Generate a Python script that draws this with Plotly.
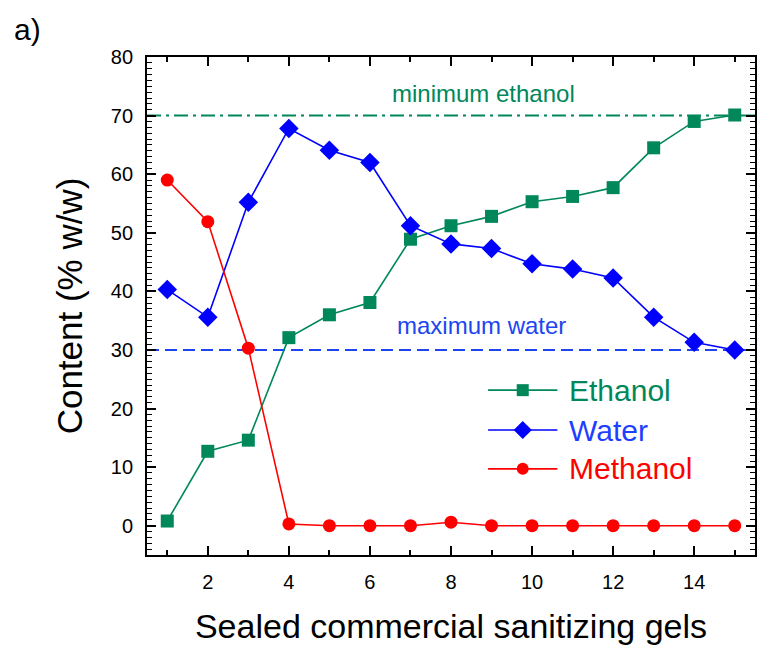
import plotly.graph_objects as go

# Sample index of the sealed commercial gels
samples = list(range(1, 16))

# Measured contents (% w/w)
ethanol = [0.8, 12.7, 14.6, 32.1, 36.0, 38.1, 48.9, 51.2, 52.8, 55.3, 56.2, 57.7, 64.5, 69.0, 70.1]
water = [40.3, 35.6, 55.2, 67.8, 64.1, 62.0, 51.2, 48.1, 47.3, 44.7, 43.8, 42.3, 35.6, 31.3, 30.0]
methanol = [59.0, 51.9, 30.3, 0.3, 0.0, 0.0, 0.0, 0.6, 0.0, 0.0, 0.0, 0.0, 0.0, 0.0, 0.0]

# Regulatory limits
min_ethanol = 70
max_water = 30

GREEN = "#00875A"
BLUE = "#0000FF"
BLUE_LIGHT = "#2045F0"
RED = "#FF0000"
FONT = "Liberation Sans, Arial, sans-serif"

series = [
    ("Ethanol", ethanol, GREEN, GREEN, "square", 13),
    ("Water", water, BLUE, "#1F3FFF", "diamond", 15),
    ("Methanol", methanol, RED, RED, "circle", 13),
]

fig = go.Figure()

# Limit lines across the whole axis range
fig.add_shape(type="line", xref="paper", yref="y", x0=0, x1=1, y0=min_ethanol, y1=min_ethanol,
              line=dict(color=GREEN, width=2, dash="14px,5px,3px,5px"), layer="below")
fig.add_shape(type="line", xref="paper", yref="y", x0=0, x1=1, y0=max_water, y1=max_water,
              line=dict(color=BLUE_LIGHT, width=2, dash="12px,6px"), layer="below")

for name, vals, col, _, sym, size in series:
    fig.add_trace(go.Scatter(
        x=samples, y=vals, mode="lines+markers", name=name,
        line=dict(color=col, width=1.6),
        marker=dict(symbol=sym, size=size, color=col),
        showlegend=False, cliponaxis=False,
    ))

# Hand-built legend on an overlay axis spanning the plot area
leg_rows = [0.331, 0.251, 0.173]
leg_x0, leg_xm, leg_x1, leg_text = 0.561, 0.618, 0.675, 0.690
for (name, vals, col, tcol, sym, size), ly in zip(series, leg_rows):
    fig.add_trace(go.Scatter(
        x=[leg_x0, leg_x1], y=[ly, ly], mode="lines", xaxis="x2", yaxis="y2",
        line=dict(color=col, width=1.6), showlegend=False, hoverinfo="skip",
    ))
    fig.add_trace(go.Scatter(
        x=[leg_xm], y=[ly], mode="markers", xaxis="x2", yaxis="y2",
        marker=dict(symbol=sym, size=size - 1, color=col), showlegend=False, hoverinfo="skip",
    ))
    fig.add_annotation(x=leg_text, y=ly, xref="x2", yref="y2", text=name, showarrow=False,
                       xanchor="left", yanchor="middle", font=dict(family=FONT, size=30, color=tcol))

fig.add_annotation(x=8.8, y=73.8, xref="x", yref="y", text="minimum ethanol", showarrow=False,
                   font=dict(family=FONT, size=24, color=GREEN))
fig.add_annotation(x=8.75, y=34.2, xref="x", yref="y", text="maximum water", showarrow=False,
                   font=dict(family=FONT, size=24, color=BLUE_LIGHT))
fig.add_annotation(x=-0.222, y=1.055, xref="paper", yref="paper", text="a)", showarrow=False,
                   xanchor="left", yanchor="middle", font=dict(family=FONT, size=30, color="black"))

axis_common = dict(
    showline=True, linecolor="black", linewidth=1.8, mirror="allticks",
    ticks="inside", tickcolor="black", tickwidth=1.6, showgrid=False, zeroline=False,
    tickfont=dict(family=FONT, size=20, color="black"), tickmode="linear", tick0=0,
)

fig.update_layout(
    width=758, height=646,
    margin=dict(l=147, r=1, t=57, b=91),
    paper_bgcolor="white", plot_bgcolor="white",
    showlegend=False,
    xaxis=dict(
        range=[0.5, 15.5], dtick=2, ticklen=9,
        minor=dict(tickmode="linear", tick0=0, dtick=1, ticklen=5, ticks="inside",
                   tickcolor="black", tickwidth=1.6),
        ticklabelstandoff=8,
        title=dict(text="Sealed commercial sanitizing gels", font=dict(family=FONT, size=34, color="black"),
                   standoff=22),
        **axis_common,
    ),
    yaxis=dict(
        range=[-5, 80], dtick=10, ticklen=9,
        minor=dict(tickmode="linear", tick0=0, dtick=1, ticklen=5, ticks="inside",
                   tickcolor="black", tickwidth=1.4),
        ticklabelstandoff=8,
        title=dict(text="Content (% w/w)", font=dict(family=FONT, size=35, color="black"), standoff=18),
        **axis_common,
    ),
    xaxis2=dict(range=[0, 1], overlaying="x", visible=False, fixedrange=True),
    yaxis2=dict(range=[0, 1], overlaying="y", visible=False, fixedrange=True),
)

fig.write_html("out.html")
